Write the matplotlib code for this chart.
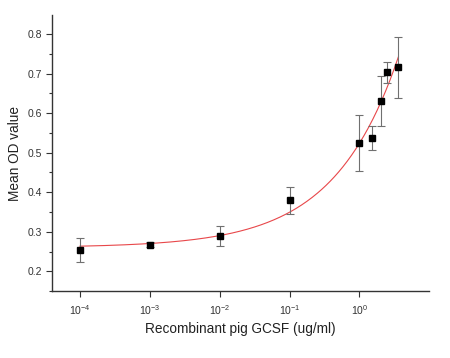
import numpy as np
import matplotlib
matplotlib.use("Agg")
import matplotlib.pyplot as plt
from matplotlib.ticker import MultipleLocator, FixedLocator, LogFormatterSciNotation, NullLocator, FormatStrFormatter

plt.rcParams['font.family'] = ['Liberation Sans', 'DejaVu Sans']
plt.rcParams['mathtext.fontset'] = 'custom'
plt.rcParams['mathtext.rm'] = 'Liberation Sans'
plt.rcParams['mathtext.it'] = 'Liberation Sans'

# data
conc = [1e-4, 1e-3, 1e-2, 1e-1, 1.0, 1.5, 2.0, 2.5, 3.6]
od_mean = [0.253, 0.267, 0.289, 0.379, 0.524, 0.537, 0.631, 0.703, 0.716]
od_err = [0.030, 0.006, 0.025, 0.034, 0.071, 0.030, 0.063, 0.026, 0.077]

# fitted curve parameters (power model: base + k * x^p)
fit_base = 0.260
fit_k = 0.264
fit_p = 0.47
fit_range = (1e-4, 3.6)

x_ticks = [1e-4, 1e-3, 1e-2, 1e-1, 1e0]
y_ticks = [0.2, 0.3, 0.4, 0.5, 0.6, 0.7, 0.8]

fig = plt.figure(figsize=(4.5, 3.58), dpi=100)
ax = fig.add_axes([0.1156, 0.187, 0.837, 0.771])

xf = np.logspace(np.log10(fit_range[0]), np.log10(fit_range[1]), 300)
yf = fit_base + fit_k * xf ** fit_p
ax.plot(xf, yf, color='#e8474a', lw=0.8, zorder=2)

ax.errorbar(conc, od_mean, yerr=od_err, fmt='none', ecolor='#707070',
            elinewidth=0.8, capsize=3, capthick=0.8, zorder=3)
ax.plot(conc, od_mean, 's', color='black', ms=4.8, zorder=4)

ax.set_xscale('log')
ax.set_xlim(10 ** -4.4, 10 ** 0.99)
ax.set_ylim(0.15, 0.848)
ax.xaxis.set_major_locator(FixedLocator(x_ticks))
ax.xaxis.set_minor_locator(NullLocator())
ax.xaxis.set_major_formatter(LogFormatterSciNotation())
ax.yaxis.set_major_locator(FixedLocator(y_ticks))
ax.yaxis.set_minor_locator(MultipleLocator(0.05))
ax.yaxis.set_major_formatter(FormatStrFormatter('%.1f'))

for s in ['top', 'right']:
    ax.spines[s].set_visible(False)
for s in ['left', 'bottom']:
    ax.spines[s].set_linewidth(1.0)
    ax.spines[s].set_color('#333333')

ax.tick_params(axis='both', which='major', direction='out', length=4, width=0.8,
               labelsize=7.5, colors='#333333', pad=3)
ax.tick_params(axis='x', which='major', pad=5)
ax.tick_params(axis='y', which='minor', direction='out', length=2.5, width=0.8, colors='#333333')

ax.set_xlabel('Recombinant pig GCSF (ug/ml)', fontsize=9.8, color='#222222', labelpad=3)
ax.set_ylabel('Mean OD value', fontsize=9.8, color='#222222', labelpad=4)

fig.savefig('out.png', dpi=100)
